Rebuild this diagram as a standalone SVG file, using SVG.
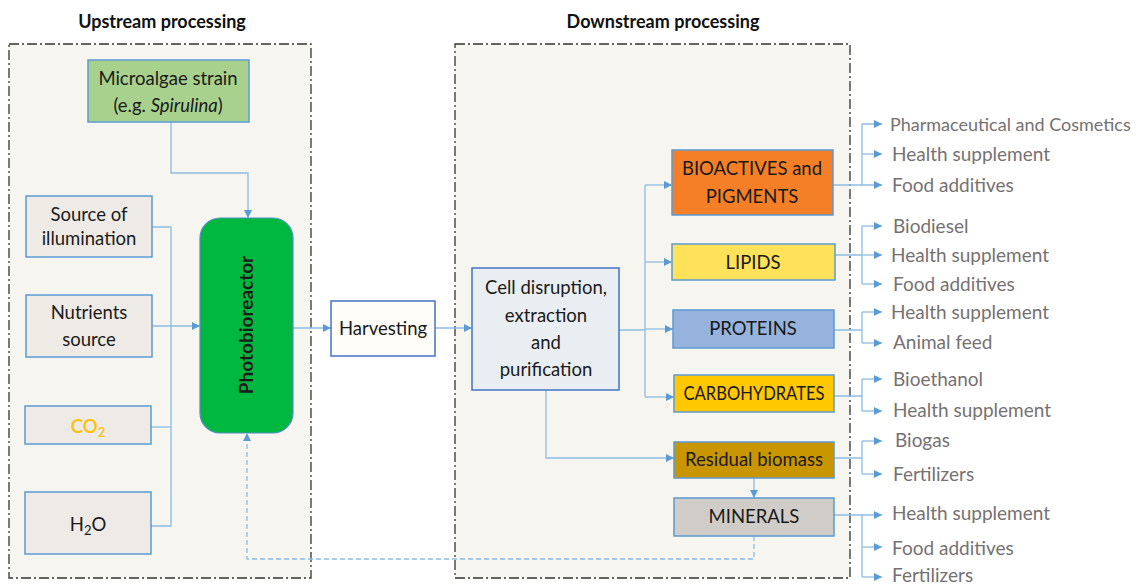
<svg xmlns="http://www.w3.org/2000/svg" width="1140" height="585" viewBox="0 0 1140 585">
<style>
.t{font-family:Lato,"Liberation Sans",sans-serif;fill:#1a1a1a;font-size:18.5px;text-anchor:middle}
.title{font-family:Lato,"Liberation Sans",sans-serif;font-weight:bold;font-size:18px;fill:#111;text-anchor:middle}
.out{font-family:Lato,"Liberation Sans",sans-serif;font-size:19px;fill:#767171}
.zone{fill:#F7F5EF;stroke:#333;stroke-width:1.3;stroke-dasharray:10 3 2 3}
.box{stroke:#5B9BD5;stroke-width:1.5}
.box2{stroke:#4472C4;stroke-width:1.5}
.c{fill:none;stroke:#8DBCE3;stroke-width:1.3}
.a{marker-end:url(#ah)}
.d{stroke-dasharray:5 3}
</style>
<defs>
<marker id="ah" markerUnits="userSpaceOnUse" markerWidth="8" markerHeight="8" refX="8" refY="4" orient="auto">
<path d="M0,0 L8,4 L0,8 z" fill="#5B9BD5"/>
</marker>
</defs>
<rect width="1140" height="585" fill="#fff"/>
<g id="upstream-zone">
<rect class="zone" x="9" y="44" width="302" height="534"/>
<text class="title" x="162" y="28">Upstream processing</text>
</g>
<g id="downstream-zone">
<rect class="zone" x="455" y="44" width="395" height="534"/>
<text class="title" x="663" y="28">Downstream processing</text>
</g>
<g id="connectors">
<path class="c a" d="M171,122 V173 H248 V218"/>
<path class="c" d="M152,227 H171 V526 H151"/>
<path class="c" d="M151,427 H171"/>
<path class="c a" d="M152,326 H200"/>
<path class="c a" d="M293,328 H331"/>
<path class="c a" d="M435,328 H472"/>
<path class="c" d="M619,330 H645 M645,185 V397"/>
<path class="c a" d="M645,185 H672"/>
<path class="c a" d="M645,262 H672"/>
<path class="c a" d="M645,329 H673"/>
<path class="c a" d="M645,397 H674"/>
<path class="c a" d="M546,390 V458 H674"/>
<path class="c a" d="M754,478 V498"/>
<path class="c a d" d="M754,536 V559 H247 V433"/>
<path class="c a" d="M833,185 H882"/>
<path class="c a" d="M862,185 V124 H882"/>
<path class="c a" d="M862,154 H882"/>
<path class="c" d="M835,255 H862 M862,226 V284"/>
<path class="c a" d="M862,226 H882"/>
<path class="c a" d="M862,255 H882"/>
<path class="c a" d="M862,284 H882"/>
<path class="c" d="M834,330 H862 M862,312 V343"/>
<path class="c a" d="M862,312 H882"/>
<path class="c a" d="M862,343 H882"/>
<path class="c" d="M834,396 H862 M862,379 V411"/>
<path class="c a" d="M862,379 H882"/>
<path class="c a" d="M862,411 H882"/>
<path class="c" d="M834,458 H862 M862,441 V474"/>
<path class="c a" d="M862,441 H882"/>
<path class="c a" d="M862,474 H882"/>
<path class="c a" d="M834,515 H882"/>
<path class="c" d="M862,515 V577"/>
<path class="c a" d="M862,547 H882"/>
<path class="c a" d="M862,577 H882"/>
</g>
<g id="microalgae">
<rect class="box" x="88" y="60" width="161" height="62" fill="#A9D18E"/>
<text class="t" x="168" y="85">Microalgae strain</text>
<text class="t" x="168" y="112">(e.g. <tspan font-style="italic">Spirulina</tspan>)</text>
</g>
<g id="illumination">
<rect class="box" x="26" y="196" width="126" height="61" fill="#EEEAE6"/>
<text class="t" x="89" y="221">Source of</text>
<text class="t" x="89" y="245">illumination</text>
</g>
<g id="nutrients">
<rect class="box" x="26" y="295" width="126" height="62" fill="#EEEAE6"/>
<text class="t" x="89" y="319">Nutrients</text>
<text class="t" x="89" y="346">source</text>
</g>
<g id="co2">
<rect class="box" x="25" y="406" width="126" height="38" fill="#EEEAE6"/>
<text class="t" x="88" y="433" style="fill:#FFC000;font-weight:600">CO<tspan font-size="13" dy="4">2</tspan></text>
</g>
<g id="h2o">
<rect class="box" x="25" y="492" width="126" height="62" fill="#EEEAE6"/>
<text class="t" x="88" y="531">H<tspan font-size="13" dy="4">2</tspan><tspan dy="-4">O</tspan></text>
</g>
<g id="photobioreactor">
<rect x="200" y="218" width="93" height="215" rx="20" fill="#00B83F" stroke="#4F8FC7" stroke-width="1.2"/>
<text class="t" x="0" y="0" transform="translate(253,325) rotate(-90)" style="font-weight:bold;font-size:19px">Photobioreactor</text>
</g>
<g id="harvesting">
<rect class="box2" x="331" y="301" width="104" height="55" fill="#FFFDF8"/>
<text class="t" x="383" y="335">Harvesting</text>
</g>
<g id="cell-disruption">
<rect class="box2" x="472" y="268" width="147" height="122" fill="#E9EEF2"/>
<text class="t" x="546" y="294">Cell disruption,</text>
<text class="t" x="546" y="322">extraction</text>
<text class="t" x="546" y="349">and</text>
<text class="t" x="546" y="376">purification</text>
</g>
<g id="bioactives">
<rect class="box" x="672" y="150" width="161" height="65" fill="#F47F26"/>
<text class="t" x="752" y="175">BIOACTIVES and</text>
<text class="t" x="752" y="203">PIGMENTS</text>
</g>
<g id="lipids">
<rect class="box" x="672" y="244" width="163" height="36" fill="#FFE15A"/>
<text class="t" x="753" y="269">LIPIDS</text>
</g>
<g id="proteins">
<rect class="box" x="673" y="310" width="161" height="38" fill="#95B3DC"/>
<text class="t" x="753" y="335">PROTEINS</text>
</g>
<g id="carbohydrates">
<rect class="box" x="674" y="375" width="160" height="37" fill="#FFC800"/>
<text class="t" x="754" y="400" textLength="141" lengthAdjust="spacingAndGlyphs">CARBOHYDRATES</text>
</g>
<g id="residual-biomass">
<rect class="box" x="674" y="442" width="160" height="36" fill="#C99600"/>
<text class="t" x="754" y="466">Residual biomass</text>
</g>
<g id="minerals">
<rect class="box" x="674" y="498" width="160" height="38" fill="#D0CCC8"/>
<text class="t" x="754" y="523">MINERALS</text>
</g>
<g id="outputs">
<text class="out" x="890" y="131" style="font-size:18px">Pharmaceutical and Cosmetics</text>
<text class="out" x="892" y="161">Health supplement</text>
<text class="out" x="892" y="192">Food additives</text>
<text class="out" x="893" y="233">Biodiesel</text>
<text class="out" x="891" y="262">Health supplement</text>
<text class="out" x="893" y="291">Food additives</text>
<text class="out" x="891" y="319">Health supplement</text>
<text class="out" x="893" y="349">Animal feed</text>
<text class="out" x="893" y="386">Bioethanol</text>
<text class="out" x="893" y="417">Health supplement</text>
<text class="out" x="895" y="447">Biogas</text>
<text class="out" x="893" y="481">Fertilizers</text>
<text class="out" x="892" y="520">Health supplement</text>
<text class="out" x="892" y="555">Food additives</text>
<text class="out" x="892" y="582">Fertilizers</text>
</g>
</svg>
